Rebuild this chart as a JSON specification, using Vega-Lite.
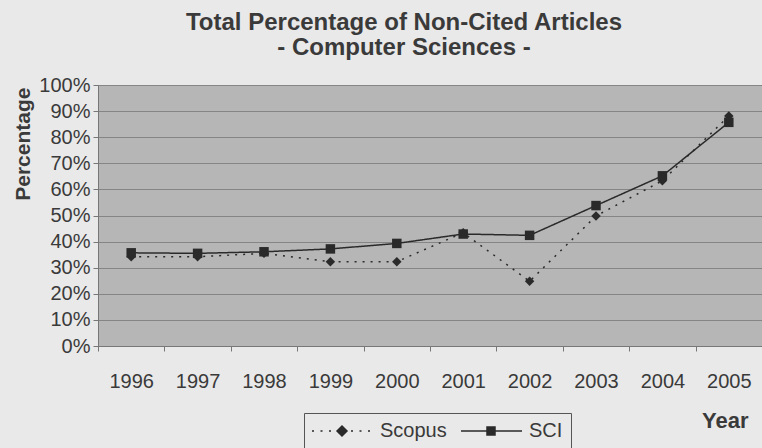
{
  "$schema": "https://vega.github.io/schema/vega-lite/v6.json",
  "width": 664,
  "height": 261,
  "autosize": "none",
  "padding": {"left": 98, "top": 85, "right": 0, "bottom": 102},
  "background": "#e9e9e9",
  "title": {
    "text": ["Total Percentage of Non-Cited Articles", "- Computer Sciences -"],
    "anchor": "middle",
    "dx": -26,
    "font": "Liberation Sans",
    "fontSize": 24,
    "fontWeight": "bold",
    "color": "#3a3a3a",
    "lineHeight": 25,
    "offset": 15
  },
  "config": {
    "view": {"fill": "#b6b6b6", "stroke": "#777777", "strokeWidth": 1},
    "axis": {
      "labelFont": "Liberation Sans",
      "labelFontSize": 20,
      "labelColor": "#3a3a3a",
      "titleFont": "Liberation Sans",
      "titleFontWeight": "bold",
      "titleColor": "#3a3a3a",
      "domainColor": "#777777",
      "tickColor": "#777777"
    }
  },
  "data": {
    "values": [
      {"year": "1996", "series": "Scopus", "value": 0.342},
      {"year": "1997", "series": "Scopus", "value": 0.342},
      {"year": "1998", "series": "Scopus", "value": 0.355},
      {"year": "1999", "series": "Scopus", "value": 0.323},
      {"year": "2000", "series": "Scopus", "value": 0.323},
      {"year": "2001", "series": "Scopus", "value": 0.434},
      {"year": "2002", "series": "Scopus", "value": 0.248},
      {"year": "2003", "series": "Scopus", "value": 0.498},
      {"year": "2004", "series": "Scopus", "value": 0.633},
      {"year": "2005", "series": "Scopus", "value": 0.881},
      {"year": "1996", "series": "SCI", "value": 0.357},
      {"year": "1997", "series": "SCI", "value": 0.355},
      {"year": "1998", "series": "SCI", "value": 0.361},
      {"year": "1999", "series": "SCI", "value": 0.372},
      {"year": "2000", "series": "SCI", "value": 0.393},
      {"year": "2001", "series": "SCI", "value": 0.429},
      {"year": "2002", "series": "SCI", "value": 0.424},
      {"year": "2003", "series": "SCI", "value": 0.538},
      {"year": "2004", "series": "SCI", "value": 0.652},
      {"year": "2005", "series": "SCI", "value": 0.857}
    ]
  },
  "encoding": {
    "x": {
      "field": "year",
      "type": "ordinal",
      "scale": {"paddingInner": 0, "paddingOuter": 0},
      "axis": {
        "title": "Year",
        "titleFontSize": 22,
        "labelAngle": 0,
        "tickBand": "extent",
        "tickSize": 5,
        "labelPadding": 20,
        "grid": false,
        "titleAnchor": "end",
        "titleAlign": "right",
        "titleBaseline": "alphabetic",
        "titleX": 650,
        "titleY": 81
      }
    },
    "y": {
      "field": "value",
      "type": "quantitative",
      "scale": {"domain": [0, 1], "nice": false},
      "axis": {
        "title": "Percentage",
        "titleFontSize": 21,
        "format": ".0%",
        "values": [0, 0.1, 0.2, 0.3, 0.4, 0.5, 0.6, 0.7, 0.8, 0.9, 1],
        "grid": true,
        "gridColor": "#858585",
        "gridWidth": 1.2,
        "tickSize": 5,
        "labelPadding": 3,
        "titleAnchor": "end",
        "titleAlign": "right",
        "titleBaseline": "alphabetic",
        "titleX": -69,
        "titleY": 2
      }
    }
  },
  "layer": [
    {
      "mark": {"type": "line", "color": "#2a2a2a", "strokeWidth": 1.5},
      "encoding": {
        "detail": {"field": "series"},
        "strokeDash": {
          "field": "series",
          "type": "nominal",
          "scale": {"domain": ["Scopus", "SCI"], "range": [[2, 6], [1, 0]]},
          "legend": null
        }
      }
    },
    {
      "mark": {"type": "point", "filled": true, "color": "#2a2a2a", "opacity": 1, "size": 90},
      "encoding": {
        "shape": {
          "field": "series",
          "type": "nominal",
          "scale": {"domain": ["Scopus", "SCI"], "range": ["diamond", "square"]},
          "legend": null
        }
      }
    },
    {
      "mark": {"type": "point", "opacity": 0},
      "encoding": {
        "shape": {
          "field": "series",
          "type": "nominal",
          "title": null,
          "scale": {
            "domain": ["Scopus", "SCI"],
            "range": [
              "M-2,0h0.4M-0.3,0h0.4M1.4,0h0.4M5.8,0h0.4M7.5,0h0.4M9.2,0h0.4M3,0L4,-1L5,0L4,1ZM3.3,0L4,-0.7L4.7,0L4,0.7ZM3.6,0L4,-0.4L4.4,0L4,0.4ZM3.85,0L4,-0.15L4.15,0L4,0.15Z",
              "M-2,0H10.2M3.2,-0.8H4.8V0.8H3.2ZM3.5,-0.5H4.5V0.5H3.5ZM3.8,-0.2H4.2V0.2H3.8Z"
            ]
          },
          "legend": {
            "orient": "none",
            "direction": "horizontal",
            "legendX": 206,
            "legendY": 328,
            "symbolSize": 100,
            "symbolOpacity": 1,
            "symbolStrokeColor": "#2a2a2a",
            "symbolStrokeWidth": 1.5,
            "labelFont": "Liberation Sans",
            "labelFontSize": 20,
            "labelColor": "#3a3a3a",
            "strokeColor": "#555555",
            "padding": 8,
            "columnPadding": 11,
            "labelOffset": 48
          }
        }
      }
    }
  ],
  "resolve": {"scale": {"shape": "independent"}}
}
